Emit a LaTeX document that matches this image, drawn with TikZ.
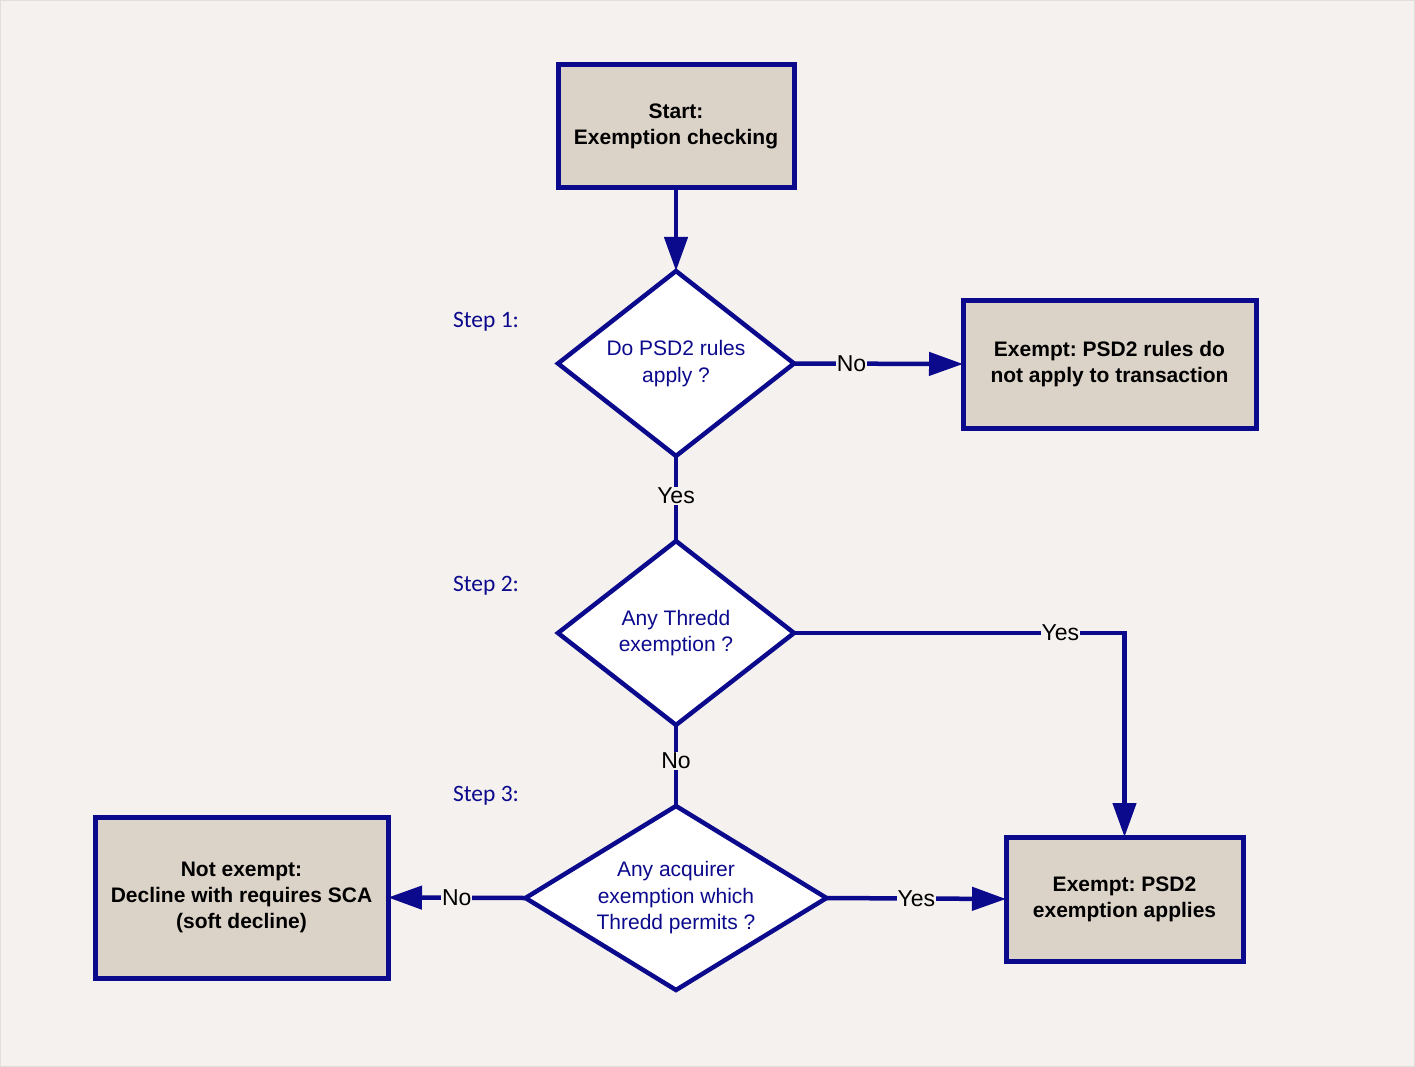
\documentclass[tikz,border=0pt]{standalone}
\usepackage{fontspec}
\setmainfont{Liberation Sans}
\newfontfamily\stepfont{Carlito}
\usetikzlibrary{shapes.geometric,arrows.meta}
\definecolor{bg}{HTML}{F5F1EE}
\definecolor{frame}{HTML}{E2DEDB}
\definecolor{navy}{HTML}{0C0A8C}
\definecolor{boxfill}{HTML}{DCD3C8}
\frenchspacing
\tikzset{
  x=1pt, y=-1pt,
  every node/.style={outer sep=0pt},
  procbox/.style={draw=navy, line width=5pt, fill=boxfill, inner sep=0pt,
    align=center, font=\fontsize{21}{26}\selectfont\bfseries, text=black},
  decision/.style={diamond, draw=navy, line width=4.5pt, fill=white, inner sep=0pt,
    align=center, font=\fontsize{21}{26.5}\selectfont, text=navy},
  steplbl/.style={font=\stepfont\fontsize{23.5}{28}\selectfont, text=navy, anchor=west, inner sep=0pt},
  edgelbl/.style={fill=bg, inner sep=1pt, font=\fontsize{23}{26}\selectfont, text=black},
  conn/.style={draw=navy, line width=4.5pt},
  arr/.style={conn, -{Triangle[length=34pt,width=23pt]}},
}
\begin{document}
\begin{tikzpicture}
\useasboundingbox (0,0) rectangle (1415,1067);
\fill[bg] (0,0) rectangle (1415,1067);
\draw[frame, line width=1pt] (0.5,0.5) rectangle (1414.5,1066.5);

\node[procbox, minimum width=236, minimum height=123] (start) at (676,126.5) {Start:\\Exemption checking};
\node[decision, aspect=1.28, minimum width=236, minimum height=185] (d1) at (676,363.5) {Do PSD2 rules\\apply ?};
\node[procbox, minimum width=293, minimum height=128] (e1) at (1109.5,364) {Exempt: PSD2 rules do\\not apply to transaction};
\node[decision, aspect=1.28, minimum width=236, minimum height=184] (d2) at (676,633) {Any Thredd\\exemption ?};
\node[decision, aspect=1.64, minimum width=301, minimum height=184] (d3) at (676,898) {Any acquirer\\exemption which\\Thredd permits ?};
\node[procbox, minimum width=293, minimum height=161] (ne) at (241.5,897.5) {Not exempt:\\Decline with requires SCA\\(soft decline)};
\node[procbox, minimum width=237, minimum height=124] (e2) at (1124.5,899) {Exempt: PSD2\\exemption applies};

\node[steplbl] (s1) at (453,322) {Step 1:};
\node[steplbl] (s2) at (453,586) {Step 2:};
\node[steplbl] (s3) at (453,796) {Step 3:};

\draw[arr] (start) -- (d1);
\draw[arr] (d1.east) -- node[edgelbl, pos=0.34] {No} (e1.west);
\draw[conn] (d1.south) -- node[edgelbl, pos=0.47] {Yes} (d2.north);
\draw[arr] (d2.east) -| node[edgelbl, pos=0.403] {Yes} (e2.north);
\draw[conn] (d2.south) -- node[edgelbl, pos=0.44] {No} (d3.north);
\draw[arr] (d3.west) -- node[edgelbl, pos=0.5] {No} (ne.east);
\draw[arr] (d3.east) -- node[edgelbl, pos=0.5] {Yes} (e2.west);
\end{tikzpicture}
\end{document}
